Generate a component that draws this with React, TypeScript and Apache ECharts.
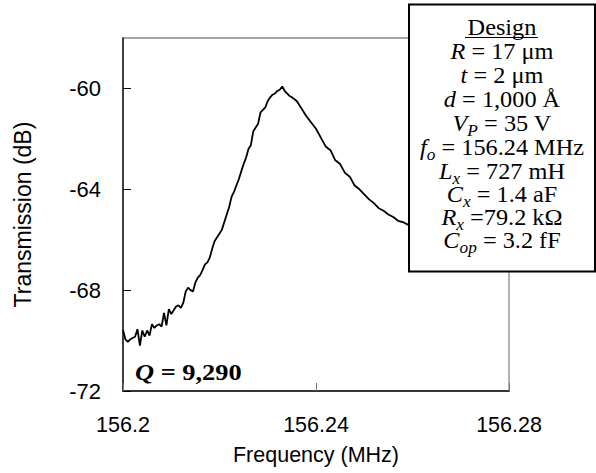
import React, { useEffect, useRef } from 'react';
import * as echarts from 'echarts';

const freqMHz = [
  156.2, 156.2005, 156.201, 156.2015, 156.202, 156.2025, 156.203, 156.2035, 156.204, 156.2045,
  156.205, 156.2055, 156.206, 156.2065, 156.207, 156.2075, 156.208, 156.2085, 156.209, 156.2095,
  156.21, 156.2105, 156.211, 156.2115, 156.212, 156.2125, 156.213, 156.2135, 156.214, 156.2145,
  156.215, 156.2155, 156.216, 156.2165, 156.217, 156.2175, 156.218, 156.2185, 156.219, 156.2195,
  156.22, 156.2205, 156.221, 156.2215, 156.222, 156.2225, 156.223, 156.2235, 156.224, 156.2245,
  156.225, 156.2255, 156.226, 156.2265, 156.227, 156.2275, 156.228, 156.2285, 156.229, 156.2295,
  156.23, 156.2305, 156.231, 156.2315, 156.232, 156.2325, 156.233, 156.2335, 156.234, 156.2345,
  156.235, 156.236, 156.237, 156.238, 156.239, 156.24, 156.241, 156.242, 156.243, 156.244,
  156.245, 156.246, 156.247, 156.248, 156.249, 156.25, 156.251, 156.252, 156.253, 156.254,
  156.255, 156.256, 156.257, 156.258, 156.259, 156.26, 156.261, 156.262,
];

const transmissionDb = [
  -69.58, -69.95, -70.05, -69.95, -69.9, -69.85, -69.55, -70.2, -69.6, -69.85,
  -69.6, -69.8, -69.35, -69.5, -69.4, -69.35, -69.45, -68.9, -69.4, -68.75,
  -68.95, -68.8, -68.65, -68.6, -68.7, -68.5, -68.05, -67.9, -68.0, -68.05,
  -67.7, -67.5, -67.4, -67.2, -66.98, -66.9, -66.7, -66.35, -66.05, -65.9,
  -65.75, -65.6, -65.3, -65.0, -64.7, -64.3, -64.1, -63.85, -63.6, -63.3,
  -63.0, -62.75, -62.4, -62.25, -61.7, -61.55, -61.4, -60.95, -60.85, -60.75,
  -60.5, -60.35, -60.25, -60.2, -60.1, -60.05, -59.92, -60.1, -60.2, -60.3,
  -60.35, -60.5, -60.8, -61.1, -61.35, -61.6, -61.95, -62.3, -62.45, -62.85,
  -63.0, -63.35, -63.5, -63.85, -64.0, -64.2, -64.4, -64.55, -64.75, -64.85,
  -65.0, -65.1, -65.25, -65.3, -65.4, -65.45, -65.5, -65.55,
];

const yMin = -72;
const yMax = -58;
const yStep = 4;
const yTickValues = [-72, -68, -64, -60];
const xMin = 156.2;
const xMax = 156.28;
const xStep = 0.04;

const xAxisTitle = 'Frequency (MHz)';
const yAxisTitle = 'Transmission (dB)';
const qLabel = '{qi|Q} = 9,290';
const designTitle = 'Design';
const designLines = [
  '{i|R} = 17 μm',
  '{i|t} = 2 μm',
  '{i|d} = 1,000 Å',
  '{i|V}{s|P} = 35 V',
  '{i|f}{s|o} = 156.24 MHz',
  '{i|L}{s|x} = 727 mH',
  '{i|C}{s|x} = 1.4 aF',
  '{i|R}{s|x} =79.2 kΩ',
  '{i|C}{s|op} = 3.2 fF',
];

const SANS = 'Liberation Sans, Arial, sans-serif';
const SERIF = 'Liberation Serif, Times New Roman, serif';

export default function App() {
  const ref = useRef<HTMLDivElement>(null);

  useEffect(() => {
    const chart = echarts.init(ref.current!, null, { renderer: 'svg' });
    const n = Math.min(freqMHz.length, transmissionDb.length);
    const data = freqMHz.slice(0, n).map((f, i) => [f, transmissionDb[i]]);

    const fs = 22.5;
    const baselines = [35, 59, 83, 107, 131, 155, 179, 202, 225, 248];
    const cx = 502;
    const richStyles = {
      i: { fontSize: fs, fontFamily: SERIF, fontStyle: 'italic', lineHeight: 31, fill: '#000' },
      s: {
        fontSize: 16,
        fontFamily: SERIF,
        fontStyle: 'italic',
        lineHeight: 17,
        padding: [14, 0, 0, 0],
        fill: '#000',
      },
    };

    const textEls: any[] = [];
    textEls.push({
      type: 'text',
      x: cx,
      y: baselines[0] - 7.6,
      scaleX: 1.08,
      z: 102,
      style: {
        text: designTitle,
        fontSize: fs,
        fontFamily: SERIF,
        fill: '#000',
        align: 'center',
        verticalAlign: 'middle',
        textAlign: 'center',
        textVerticalAlign: 'middle',
      },
    });
    designLines.forEach((t, k) => {
      textEls.push({
        type: 'text',
        x: cx,
        y: baselines[k + 1] - 7.6,
        scaleX: 1.08,
        z: 102,
        style: {
          text: t,
          fontSize: fs,
          fontFamily: SERIF,
          lineHeight: 31,
          fill: '#000',
          align: 'center',
          verticalAlign: 'middle',
          textAlign: 'center',
          textVerticalAlign: 'middle',
          rich: richStyles,
        },
      });
    });

    chart.setOption({
      animation: false,
      backgroundColor: '#fff',
      grid: {
        left: 123,
        top: 38,
        right: 87,
        bottom: 82,
        show: true,
        borderColor: '#888',
        borderWidth: 1.3,
        backgroundColor: 'transparent',
      },
      xAxis: {
        type: 'value',
        min: xMin,
        max: xMax,
        interval: xStep,
        name: xAxisTitle,
        nameLocation: 'middle',
        nameGap: 53,
        nameTextStyle: { fontFamily: SANS, fontSize: 21.5, color: '#000' },
        axisLine: { show: true, onZero: false, lineStyle: { color: '#111', width: 1.6 } },
        axisTick: { show: true, inside: true, length: 8, lineStyle: { color: '#777', width: 1 } },
        axisLabel: {
          margin: 23,
          fontFamily: SANS,
          fontSize: 21.5,
          color: '#000',
          formatter: (v: number) => String(Number(v.toFixed(2))),
        },
        splitLine: { show: false },
      },
      yAxis: {
        type: 'value',
        min: yMin,
        max: yMax,
        interval: yStep,
        name: yAxisTitle,
        nameLocation: 'middle',
        nameRotate: 90,
        nameGap: 89,
        nameTextStyle: { fontFamily: SANS, fontSize: 23, color: '#000' },
        axisLine: { show: true, onZero: false, lineStyle: { color: '#222', width: 1.6 } },
        axisTick: {
          show: true,
          inside: true,
          length: 8,
          customValues: yTickValues,
          lineStyle: { color: '#000', width: 1 },
        },
        axisLabel: {
          margin: 22,
          fontFamily: SANS,
          fontSize: 22,
          color: '#000',
          customValues: yTickValues,
        },
        splitLine: { show: false },
      },
      series: [
        {
          type: 'line',
          data,
          showSymbol: false,
          symbol: 'none',
          lineStyle: { color: '#000', width: 1.8 },
          z: 5,
        },
      ],
      graphic: [
        {
          type: 'rect',
          z: 100,
          shape: { x: 409, y: 4.5, width: 186, height: 267 },
          style: { fill: '#fff', stroke: '#000', lineWidth: 2 },
        },
        {
          type: 'line',
          z: 102,
          shape: { x1: 465, y1: 37.5, x2: 538, y2: 37.5 },
          style: { stroke: '#000', lineWidth: 1 },
        },
        ...textEls,
        {
          type: 'text',
          x: 135,
          y: 372.4,
          scaleX: 1.1,
          z: 102,
          style: {
            text: qLabel,
            fontSize: 24,
            fontFamily: SERIF,
            fontWeight: 'bold',
            fill: '#000',
            align: 'left',
            verticalAlign: 'middle',
            textAlign: 'left',
            textVerticalAlign: 'middle',
            rich: {
              qi: { fontSize: 24, fontFamily: SERIF, fontWeight: 'bold', fontStyle: 'italic', fill: '#000' },
            },
          },
        },
      ],
    });

    return () => chart.dispose();
  }, []);

  return (
    <div
      ref={ref}
      style={{ position: 'fixed', left: 0, top: 0, width: 596, height: 473, background: '#fff' }}
    />
  );
}
